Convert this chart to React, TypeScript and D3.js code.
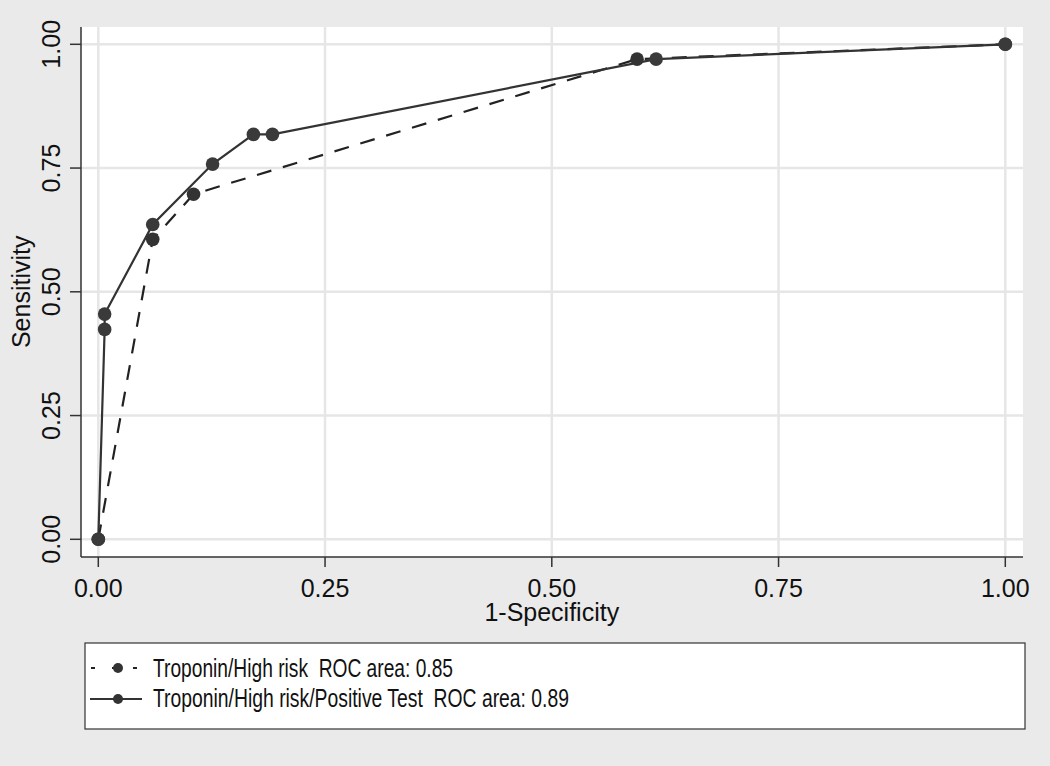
import React from "react";
import * as d3 from "d3";

const xTicks = [0, 0.25, 0.5, 0.75, 1];
const yTicks = [0, 0.25, 0.5, 0.75, 1];
const tickLabels = ["0.00", "0.25", "0.50", "0.75", "1.00"];

// Troponin/High risk (dashed)
const dashedX = [0, 0.06, 0.105, 0.594, 1];
const dashedY = [0, 0.606, 0.697, 0.97, 1];

// Troponin/High risk/Positive Test (solid)
const solidX = [0, 0.007, 0.007, 0.06, 0.126, 0.171, 0.192, 0.615, 1];
const solidY = [0, 0.424, 0.455, 0.636, 0.758, 0.818, 0.818, 0.97, 1];

const legendLabels = [
  "Troponin/High risk  ROC area: 0.85",
  "Troponin/High risk/Positive Test  ROC area: 0.89",
];

const W = 1050;
const H = 766;
const plotL = 81, plotR = 1023, plotT = 27, plotB = 557;
const FONT = "Liberation Sans, Arial, Helvetica, sans-serif";
const INK = "#333333";

export default function App() {
  const x = d3.scaleLinear().domain([0, 1]).range([98.3, 1005.3]);
  const y = d3.scaleLinear().domain([0, 1]).range([539.3, 44.3]);
  const line = d3
    .line<[number, number]>()
    .x((d) => x(d[0]))
    .y((d) => y(d[1]));
  const dashed: [number, number][] = dashedX.map((v, i) => [v, dashedY[i]]);
  const solid: [number, number][] = solidX.map((v, i) => [v, solidY[i]]);

  return (
    <svg
      width={W}
      height={H}
      style={{ position: "absolute", left: 0, top: 0, display: "block" }}
      fontFamily={FONT}
    >
      <rect x={0} y={0} width={W} height={H} fill="#eaeaea" />
      <rect x={plotL} y={plotT} width={plotR - plotL} height={plotB - plotT} fill="#ffffff" />
      {/* grid */}
      {xTicks.map((t) => (
        <line key={"gx" + t} x1={x(t)} x2={x(t)} y1={plotT} y2={plotB} stroke="#e6e6e6" strokeWidth={2.5} />
      ))}
      {yTicks.map((t) => (
        <line key={"gy" + t} x1={plotL} x2={plotR} y1={y(t)} y2={y(t)} stroke="#e6e6e6" strokeWidth={2.5} />
      ))}
      {/* axes */}
      <line x1={plotL} x2={plotL} y1={plotT} y2={plotB} stroke={INK} strokeWidth={1.5} />
      <line x1={plotL} x2={plotR} y1={plotB} y2={plotB} stroke={INK} strokeWidth={1.5} />
      {xTicks.map((t, i) => (
        <g key={"xt" + t}>
          <line x1={x(t)} x2={x(t)} y1={plotB} y2={plotB + 10} stroke={INK} strokeWidth={1.5} />
          <text x={x(t)} y={597} textAnchor="middle" fontSize={25} fill="#111">
            {tickLabels[i]}
          </text>
        </g>
      ))}
      {yTicks.map((t, i) => (
        <g key={"yt" + t}>
          <line x1={plotL - 11} x2={plotL} y1={y(t)} y2={y(t)} stroke={INK} strokeWidth={1.5} />
          <text
            transform={`translate(60,${y(t)}) rotate(-90)`}
            textAnchor="middle"
            fontSize={25}
            fill="#111"
          >
            {tickLabels[i]}
          </text>
        </g>
      ))}
      <text x={x(0.5)} y={621} textAnchor="middle" fontSize={25} fill="#111">
        1-Specificity
      </text>
      <text
        transform={`translate(30,${(y(0) + y(1)) / 2}) rotate(-90)`}
        textAnchor="middle"
        fontSize={25}
        fill="#111"
      >
        Sensitivity
      </text>
      {/* series */}
      <path d={line(dashed) || ""} fill="none" stroke="#222" strokeWidth={2.2} strokeDasharray="15,12" />
      <path d={line(solid) || ""} fill="none" stroke={INK} strokeWidth={2.2} />
      {dashed.map((d, i) => (
        <circle key={"dp" + i} cx={x(d[0])} cy={y(d[1])} r={6.8} fill="#333" />
      ))}
      {solid.map((d, i) => (
        <circle key={"sp" + i} cx={x(d[0])} cy={y(d[1])} r={6.8} fill="#3a3a3a" />
      ))}
      {/* legend */}
      <rect x={85} y={643} width={940} height={86} fill="#ffffff" stroke={INK} strokeWidth={1.2} />
      <g>
        <line x1={90} x2={146} y1={668} y2={668} stroke="#222" strokeWidth={2} strokeDasharray="4,17" strokeDashoffset={-1} />
        <circle cx={118} cy={668} r={5} fill="#333" />
        <text
          x={153}
          y={677}
          fontSize={26}
          fill="#111"
          textLength={300}
          lengthAdjust="spacingAndGlyphs"
          style={{ whiteSpace: "pre" }}
        >
          {legendLabels[0]}
        </text>
      </g>
      <g>
        <line x1={90} x2={142} y1={699} y2={699} stroke={INK} strokeWidth={2} />
        <circle cx={118} cy={699} r={5} fill="#333" />
        <text
          x={153}
          y={707}
          fontSize={26}
          fill="#111"
          textLength={416}
          lengthAdjust="spacingAndGlyphs"
          style={{ whiteSpace: "pre" }}
        >
          {legendLabels[1]}
        </text>
      </g>
    </svg>
  );
}
